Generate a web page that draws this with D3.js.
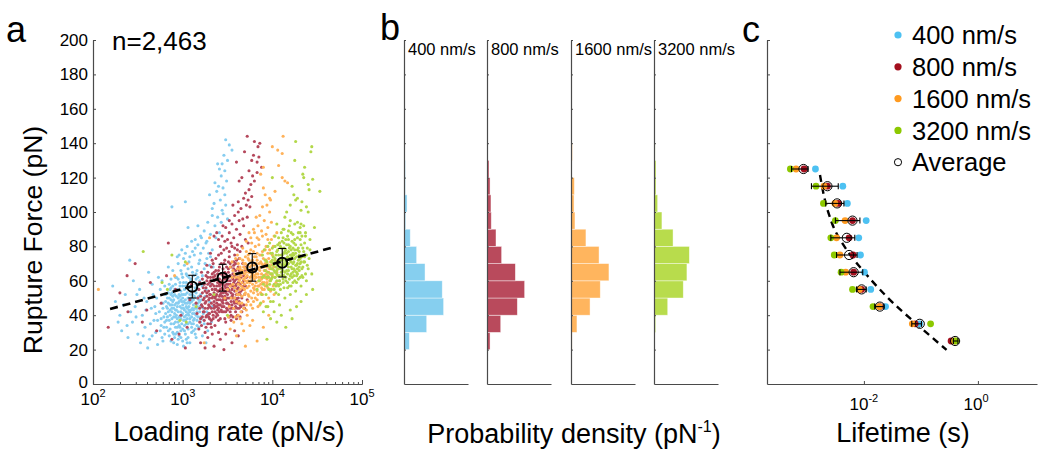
<!DOCTYPE html>
<html><head><meta charset="utf-8">
<script src="https://cdn.jsdelivr.net/npm/d3@7"></script>
<style>body{margin:0;background:#fff}svg{display:block}text{font-family:"Liberation Sans",Arial,sans-serif;fill:#000}</style>
</head><body><svg id="chart" width="1039" height="449"></svg>
<script>
// ---------- DATA ----------
const speeds = ["400 nm/s","800 nm/s","1600 nm/s","3200 nm/s"];
const sampleCountLabel = "n=2,463";
// panel a scatter: [log10 loading rate (pN/s), rupture force (pN)]
const scatter400 = [
[2.84,31],[2.91,27],[2.97,33],[3.03,29],[3.10,35],[2.88,38],[2.95,42],[3.01,37],[3.07,40],[3.14,44],
[2.82,45],[2.89,48],[2.93,51],[3.00,46],[3.05,53],[3.12,49],[3.18,55],[2.86,55],[2.92,58],[2.98,54],
[3.04,59],[3.09,57],[3.15,61],[2.81,41],[2.87,35],[2.94,30],[3.00,25],[3.06,32],[3.13,38],[3.19,42],
[2.83,50],[2.90,44],[2.96,39],[3.02,43],[3.08,47],[3.16,50],[3.21,46],[2.85,28],[2.92,36],[2.99,40],
[3.05,44],[3.11,52],[3.17,58],[2.80,36],[2.88,42],[2.95,47],[3.01,52],[3.07,56],[3.13,54],[3.20,52],
[2.84,47],[2.90,39],[2.97,45],[3.03,49],[3.09,43],[3.15,47],[3.22,57],[2.86,43],[2.93,40],[2.99,35],
[3.05,38],[3.11,41],[3.17,39],[2.82,33],[2.89,30],[2.96,28],[3.02,34],[3.08,36],[3.14,32],[3.20,36],
[2.87,52],[2.94,55],[3.00,57],[3.06,50],[3.12,46],[3.18,49],[2.83,39],[2.91,46],[2.98,49],[3.04,42],
[3.10,48],[3.16,44],[2.85,37],[2.92,33],[2.98,31],[3.04,26],[3.10,30],[3.16,34],[2.81,48],[2.88,53],
[2.95,50],[3.01,44],[3.07,45],[3.13,41],[3.19,45],[2.86,46],[2.93,43],[2.99,48],[3.06,41],[3.12,43],
[3.18,51],[2.84,42],[2.90,49],[2.96,52],[3.02,55],[3.08,52],[3.14,56],[2.89,57],[2.95,61],[3.01,59],
[3.07,62],[2.80,29],[2.87,25],[2.94,23],[3.01,22],[3.08,24],[3.15,27],[2.92,29],[2.98,38],[3.04,35],
[3.10,39],[3.16,37],[2.85,50],[2.91,52],[2.97,57],[3.03,47],[3.09,50],[3.15,53],[3.21,49],[3.00,41],
[2.83,44],[2.87,49],[2.91,41],[2.95,36],[2.99,44],[3.03,52],[3.07,48],[3.11,44],[3.15,40],[3.19,48],
[2.84,53],[2.88,46],[2.92,43],[2.96,48],[3.00,50],[3.04,45],[3.08,42],[3.12,37],[3.16,42],[3.20,45],
[2.86,40],[2.90,35],[2.94,38],[2.98,42],[3.02,39],[3.06,35],[3.10,33],[3.14,29],[3.18,33],[2.82,37],
[2.86,32],[2.90,29],[2.94,33],[2.98,27],[3.02,31],[3.06,27],[3.12,31],[2.89,51],[2.93,47],[2.97,51],
[3.01,48],[3.05,47],[3.09,54],[3.13,51],[3.17,47],[2.85,58],[2.91,55],[2.97,59],[3.03,57],[3.09,60],
[3.15,58],[2.81,52],[2.87,56],[2.93,62],[2.99,64],[3.05,63],[3.11,65],[3.17,62],[2.88,44],[2.92,39],
[2.96,34],[3.00,32],[3.04,40],[3.08,38],[3.12,35],[3.16,45],[3.20,39],[2.94,45],[2.99,52],[3.03,37],
[3.07,43],[3.11,49],[2.95,26],[3.05,24],[2.90,24],[2.78,44],[2.76,38],[2.80,57],[2.79,33],[3.23,41],
[2.22,57],[2.25,48],[2.32,31],[2.39,27],[2.41,72],[2.30,40],[2.36,52],[2.44,36],[2.47,45],[2.50,29],
[2.52,55],[2.55,40],[2.58,33],[2.61,21],[2.60,48],[2.63,26],[2.65,44],[2.66,58],[2.68,37],[2.70,30],
[2.71,50],[2.72,23],[2.74,42],[2.75,55],[2.76,34],[2.77,27],[2.78,47],[2.79,39],[2.73,62],[2.69,45],
[2.64,35],[2.57,50],[2.53,24],[2.48,39],[2.45,60],[2.42,42],[2.38,34],[2.34,46],[2.28,36],[2.62,65],
[2.67,52],[2.70,41],[2.75,31],[2.78,25],[2.56,28],[2.49,52],[2.59,43],[2.77,60],[2.72,37],[2.66,28],
[2.92,62],[2.98,66],[3.04,64],[3.10,68],[3.16,66],[3.22,63],[3.28,65],[2.95,70],[3.01,73],[3.07,71],
[3.13,75],[3.19,72],[3.25,70],[3.31,74],[2.99,78],[3.05,80],[3.11,77],[3.17,81],[3.23,79],[3.29,76],
[3.00,62],[3.06,67],[3.12,63],[3.18,70],[3.24,67],[3.30,69],[2.96,75],[3.02,69],[3.08,74],[3.14,79],
[3.20,76],[3.26,82],[3.33,78],[2.89,66],[2.94,74],[3.10,83],[3.21,85],[3.27,73],[3.15,64],[3.03,76],
[2.87,61],[3.34,68],[3.09,61],[3.19,60],[2.84,68],
[3.48,142],[3.52,139],[3.55,136],[3.46,133],[3.50,130],[3.44,128],[3.39,128],[3.41,125],[3.47,124],[3.43,121],
[3.49,118],[3.36,117],[3.40,115],[3.45,114],[3.38,112],[3.30,110],[3.47,110],[3.42,107],[3.35,105],[3.48,104],
[3.44,101],[3.45,99],[3.33,98],[3.39,97],[3.28,94],[3.43,94],[3.17,92],[3.06,91],[3.36,92],[3.24,89],
[3.31,87],[3.20,86],[3.37,85],[3.14,84],[3.27,83],[3.41,88],[2.88,103],[3.03,106],[3.50,96],[3.33,102],
[3.24,35],[3.27,42],[3.30,48],[3.26,55],[3.22,28],[3.29,39],[3.33,45],[3.25,51],[3.31,58],[3.23,44],
[3.28,31],[3.35,52],[3.21,38],[3.26,24],[3.32,36]
];
const scatter800 = [
[3.18,32],[3.24,37],[3.30,41],[3.36,45],[3.42,49],[3.48,53],[3.54,57],[3.60,61],[3.66,65],[3.21,46],
[3.27,51],[3.33,55],[3.39,59],[3.45,63],[3.51,67],[3.57,71],[3.63,48],[3.69,52],[3.16,41],[3.22,53],
[3.28,58],[3.34,62],[3.40,66],[3.46,70],[3.52,74],[3.58,44],[3.64,39],[3.70,57],[3.19,59],[3.25,44],
[3.31,35],[3.37,39],[3.43,43],[3.49,47],[3.55,51],[3.61,55],[3.67,59],[3.20,38],[3.26,63],[3.32,68],
[3.38,52],[3.44,56],[3.50,60],[3.56,64],[3.62,68],[3.68,46],[3.23,49],[3.29,54],[3.35,48],[3.41,42],
[3.47,38],[3.53,42],[3.59,50],[3.65,54],[3.71,62],[3.17,50],[3.23,56],[3.29,46],[3.35,57],[3.41,61],
[3.47,65],[3.53,63],[3.59,57],[3.65,45],[3.19,44],[3.25,30],[3.31,62],[3.37,66],[3.43,70],[3.49,58],
[3.55,46],[3.61,40],[3.67,70],[3.22,61],[3.28,35],[3.34,40],[3.40,37],[3.46,45],[3.52,50],[3.58,54],
[3.64,58],[3.70,66],[3.24,58],[3.30,52],[3.36,34],[3.42,55],[3.48,61],[3.54,68],[3.60,72],[3.66,50],
[3.18,55],[3.26,48],[3.32,44],[3.38,47],[3.44,51],[3.50,43],[3.56,39],[3.62,62],[3.68,63],[3.21,34],
[3.27,40],[3.33,50],[3.39,54],[3.45,58],[3.51,55],[3.57,59],[3.63,66],[3.69,44],[3.20,51],[3.28,65],
[3.34,70],[3.40,46],[3.46,50],[3.52,46],[3.58,63],[3.64,52],[3.15,47],[3.23,42],[3.29,39],[3.35,53],
[3.41,57],[3.47,54],[3.53,58],[3.59,66],[3.65,62],[3.25,54],[3.31,57],[3.37,61],[3.43,64],[3.49,68],
[3.55,62],[3.61,47],[3.67,55],[3.22,39],[3.30,45],[3.36,50],[3.42,52],[3.48,49],[3.54,53],[3.60,58],
[3.66,42],[3.27,60],[3.33,64],[3.39,43],[3.45,47],[3.51,62],[3.57,48],[3.63,44],[3.19,36],[3.26,33],
[3.32,37],[3.38,57],[3.44,60],[3.50,56],[3.56,52],[3.62,56],[3.68,60],[3.24,50],[3.36,55],[3.42,59],
[3.48,64],[3.54,48],[3.60,52],[3.29,49],[3.35,44],[3.41,51],[3.47,57],[3.53,44],[3.59,45],[3.39,64],
[3.45,67],[3.51,71],[3.57,67],[3.63,73],[3.33,72],[3.40,75],[3.46,78],[3.52,77],[3.58,75],[3.64,77],
[3.37,73],[3.43,76],[3.49,79],[3.55,80],[3.61,78],[3.31,76],[3.27,69],[3.21,65],[3.69,68],[3.72,49],
[3.35,60],[3.45,53],[3.55,55],[3.40,49],[3.50,52],[3.30,59],[3.44,45],[3.38,41],[3.48,42],[3.58,47],
[3.25,47],[3.30,50],[3.35,46],[3.40,54],[3.45,49],[3.50,47],[3.55,44],[3.60,49],[3.28,44],[3.33,42],
[3.38,49],[3.43,53],[3.48,56],[3.53,60],[3.58,56],[3.63,53],[3.26,56],[3.31,60],[3.36,63],[3.41,58],
[3.46,61],[3.51,58],[3.56,61],[3.61,64],[3.29,41],[3.34,38],[3.39,40],[3.44,42],[3.49,44],[3.54,40],
[3.59,42],[3.64,46],[3.27,53],[3.32,47],[3.37,51],[3.42,46],[3.47,51],[3.52,54],[3.57,50],[3.62,50],
[3.24,42],[3.30,38],[3.36,42],[3.42,38],[3.48,36],[3.54,37],[3.60,38],[3.33,58],[3.39,61],[3.45,55],
[3.51,65],[3.57,69],[3.63,61],[3.35,65],[3.41,68],[3.47,72],[3.53,70],[3.59,70],[3.28,62],[3.38,45],
[3.44,48],[3.50,50],[3.56,57],[3.62,59],[3.31,52],[3.37,55],[3.43,58],[3.49,54],[3.55,50],[3.61,44],
[3.34,51],[3.40,44],[3.46,42],[3.52,39],[3.58,60],[3.64,64],[3.68,57],[3.22,45],[3.26,39],[3.32,33],
[2.38,63],[2.30,53],[2.64,59],[2.39,42],[2.17,33],[2.60,43],[2.84,82],[2.71,31],[2.88,26],[3.03,21],
[2.55,36],[2.76,47],[2.92,55],[2.98,40],[3.05,33],[2.82,63],[2.47,70],[2.96,29],[3.08,49],[3.10,58],
[3.72,144],[3.80,141],[3.84,138],[3.86,140],[3.79,133],[3.77,130],[3.83,129],[3.85,132],[3.60,129],[3.74,124],
[3.83,123],[3.88,126],[3.66,120],[3.76,116],[3.74,113],[3.70,111],[3.63,118],[3.68,108],[3.73,107],[3.77,109],
[3.71,104],[3.65,102],[3.62,100],[3.75,103],[3.58,98],[3.67,96],[3.63,95],[3.72,97],[3.55,93],[3.48,91],
[3.60,90],[3.68,92],[3.52,88],[3.44,86],[3.57,85],[3.64,87],[3.70,84],[3.47,83],[3.54,82],[3.61,81],
[3.42,80],[3.50,84],[3.66,80],[3.58,79],[3.73,82],[3.45,92],[3.38,88],[3.56,104],[3.80,118],[3.69,135],
[3.52,95],[3.40,84],[3.62,106],[3.78,121],[3.35,86],
[3.20,24],[3.28,27],[3.35,22],[3.42,26],[3.48,29],[3.55,24],[3.33,29],[3.25,21],[3.40,30],[3.58,31],[3.46,20],[3.62,28]
];
const scatter1600 = [
[3.52,45],[3.58,50],[3.64,55],[3.70,60],[3.76,65],[3.82,70],[3.88,75],[3.94,58],[4.00,63],[3.55,62],
[3.61,67],[3.67,72],[3.73,48],[3.79,53],[3.85,57],[3.91,62],[3.97,67],[4.03,72],[3.50,55],[3.56,58],
[3.62,40],[3.68,44],[3.74,57],[3.80,61],[3.86,66],[3.92,70],[3.98,54],[4.04,59],[3.53,68],[3.59,73],
[3.65,63],[3.71,67],[3.77,71],[3.83,49],[3.89,52],[3.95,76],[4.01,80],[3.57,36],[3.63,47],[3.69,52],
[3.75,76],[3.81,80],[3.87,62],[3.93,64],[3.99,69],[4.05,65],[3.54,50],[3.60,54],[3.66,59],[3.72,63],
[3.78,58],[3.84,64],[3.90,68],[3.96,73],[4.02,52],[3.58,64],[3.64,68],[3.70,70],[3.76,54],[3.82,59],
[3.88,56],[3.94,61],[4.00,75],[3.51,39],[3.57,44],[3.63,60],[3.69,64],[3.75,68],[3.81,66],[3.87,71],
[3.93,80],[3.99,84],[4.06,70],[3.55,71],[3.61,75],[3.67,79],[3.73,73],[3.79,77],[3.85,81],[3.91,55],
[3.97,60],[3.60,48],[3.66,51],[3.72,56],[3.78,62],[3.84,67],[3.90,73],[3.96,65],[4.02,68],[3.62,58],
[3.68,61],[3.74,65],[3.80,69],[3.86,75],[3.92,78],[3.98,71],[3.65,42],[3.71,46],[3.77,50],[3.83,54],
[3.89,59],[3.95,63],[4.01,57],[3.59,62],[3.65,66],[3.71,77],[3.77,82],[3.83,85],[3.89,86],[3.95,84],
[3.64,73],[3.70,53],[3.76,60],[3.82,74],[3.88,64],[3.94,68],[3.47,50],[3.53,57],[3.59,39],[3.66,35],
[3.72,40],[3.78,44],[3.84,45],[3.90,48],[3.96,50],[3.61,52],[3.67,56],[3.73,60],[3.79,66],[3.85,70],
[3.91,66],[3.97,78],[4.03,62],[3.56,66],[3.62,70],[3.68,68],[3.74,72],[3.80,74],[3.86,60],[3.92,57],
[3.98,61],[4.08,60],[3.69,58],[3.75,62],[3.81,57],[3.87,53],[3.93,72],[3.99,64],[3.63,64],[3.70,74],
[3.76,78],[3.82,64],[3.88,68],[3.94,70],[4.00,67],[3.58,56],[3.64,61],[3.71,65],[3.77,69],[3.83,72],
[3.89,77],[3.95,56],[3.73,52],[3.79,56],[3.85,62],[3.91,59],[3.97,55],[3.67,65],[3.80,63],[3.86,68],
[3.62,62],[3.67,66],[3.72,69],[3.77,63],[3.82,67],[3.87,58],[3.92,62],[3.65,57],[3.70,62],[3.75,59],
[3.80,55],[3.85,60],[3.90,63],[3.68,70],[3.73,75],[3.78,72],[3.83,76],[3.88,70],[3.93,66],[3.63,52],
[3.69,55],[3.74,51],[3.79,48],[3.84,52],[3.89,55],[3.66,47],[3.71,43],[3.76,46],[3.81,50],[3.86,46],
[3.64,67],[3.70,67],[3.76,66],[3.82,62],[3.88,61],[3.94,59],[3.72,59],[3.78,64],[3.84,57],[3.90,69],
[4.12,144],[4.00,138],[4.06,136],[4.11,134],[3.90,126],[4.07,127],[4.11,120],[4.14,118],[4.17,117],[3.90,114],
[3.92,110],[3.97,108],[3.98,107],[3.89,103],[3.97,100],[3.86,98],[3.91,95],[3.84,92],[3.95,91],[3.80,88],
[3.88,89],[3.93,87],[3.76,85],[3.85,84],[4.02,86],[3.71,83],[3.79,90],[3.99,94],[4.05,88],[3.82,97],
[4.08,82],[3.74,88],[3.94,104],[4.03,112],[3.87,122],
[3.53,32],[3.60,28],[3.68,31],[3.75,34],[3.78,37],[3.83,25],[3.70,22],[3.90,33],[3.64,38],[3.96,40],
[2.06,55],[2.91,63],[3.24,24],[3.05,70],[3.30,85]
];
const scatter3200 = [
[3.88,52],[3.94,57],[4.00,62],[4.06,67],[4.12,72],[4.18,77],[4.24,82],[4.30,66],[4.36,71],[3.91,63],
[3.97,68],[4.03,73],[4.09,55],[4.15,60],[4.21,64],[4.27,69],[4.33,74],[4.39,79],[3.85,60],[3.92,66],
[3.98,48],[4.04,53],[4.10,65],[4.16,69],[4.22,74],[4.28,78],[4.34,62],[4.40,67],[3.89,75],[3.95,80],
[4.01,70],[4.07,75],[4.13,79],[4.19,57],[4.25,60],[4.31,84],[4.37,88],[3.93,45],[3.99,55],[4.05,60],
[4.11,83],[4.17,86],[4.23,70],[4.29,72],[4.35,77],[4.41,73],[3.90,58],[3.96,62],[4.02,66],[4.08,70],
[4.14,65],[4.20,72],[4.26,76],[4.32,81],[4.38,60],[3.94,71],[4.00,76],[4.06,78],[4.12,61],[4.18,66],
[4.24,63],[4.30,68],[4.36,82],[3.87,47],[3.93,52],[3.99,67],[4.05,71],[4.11,75],[4.17,74],[4.23,79],
[4.29,88],[4.35,92],[4.42,78],[3.91,78],[3.97,82],[4.03,86],[4.09,80],[4.15,84],[4.21,88],[4.27,63],
[4.33,67],[3.96,55],[4.02,58],[4.08,63],[4.14,69],[4.20,75],[4.26,81],[4.32,71],[4.38,75],[3.98,64],
[4.04,68],[4.10,72],[4.16,76],[4.22,83],[4.28,85],[4.34,79],[4.01,48],[4.07,52],[4.13,56],[4.19,61],
[4.25,66],[4.31,70],[4.37,64],[3.95,65],[4.01,69],[4.07,85],[4.13,90],[4.19,92],[4.25,93],[4.31,91],
[4.00,79],[4.06,58],[4.12,66],[4.18,81],[4.24,71],[4.30,75],[3.83,55],[3.89,62],[3.95,45],[4.02,42],
[4.08,46],[4.14,50],[4.20,52],[4.26,54],[4.32,57],[3.97,58],[4.03,62],[4.09,67],[4.15,73],[4.21,78],
[4.27,74],[4.33,86],[4.39,69],[3.92,72],[3.98,76],[4.04,75],[4.10,79],[4.16,81],[4.22,67],[4.28,64],
[4.34,68],[4.44,64],[4.05,64],[4.11,69],[4.17,64],[4.23,59],[4.29,79],[4.35,71],[3.99,71],[4.06,81],
[4.12,85],[4.18,70],[4.24,75],[4.30,77],[4.36,74],[3.94,62],[4.00,67],[4.07,72],[4.13,76],[4.19,79],
[4.25,84],[4.31,62],[4.09,58],[4.15,62],[4.21,68],[4.27,65],[4.33,63],[4.03,71],[4.16,70],[4.22,75],
[3.98,60],[4.03,65],[4.08,60],[4.13,63],[4.18,68],[4.23,65],[4.28,70],[4.00,72],[4.05,77],[4.10,75],
[4.15,78],[4.20,80],[4.25,78],[4.02,55],[4.07,57],[4.12,59],[4.17,56],[4.22,62],[4.27,59],[3.96,69],
[4.01,74],[4.06,69],[4.11,63],[4.16,66],[4.21,71],[4.26,69],[4.31,73],[3.99,61],[4.04,57],[4.09,73],
[4.14,77],[4.19,73],[4.24,67],[4.29,61],[4.03,80],[4.08,82],[4.13,82],[4.18,84],[4.23,76],[4.12,70],
[4.06,63],[4.15,71],[4.20,63],[4.10,68],[4.00,64],[4.25,73],[4.17,59],[4.05,66],[4.28,67],[4.21,57],
[4.26,141],[4.44,138],[4.43,135],[4.25,130],[4.36,126],[4.34,122],[4.35,120],[4.00,120],[4.45,119],[4.53,112],
[4.40,116],[4.41,113],[4.24,110],[4.28,108],[4.26,107],[4.20,104],[4.38,103],[4.40,100],[4.32,101],[4.14,97],
[4.20,95],[4.28,94],[4.32,93],[4.12,90],[4.18,89],[4.23,87],[4.31,88],[4.37,86],[4.42,84],[4.10,88],
[4.47,91],[4.05,93],[4.16,100],[4.33,106],[4.22,115],
[3.94,26],[4.20,43],[4.27,45],[4.10,40],[4.05,36],[3.98,38],[4.15,33],[4.22,38],[3.90,42],[4.32,48],[4.38,52],[4.45,55],
[2.56,77],[2.88,75],[3.03,71],[2.77,59],[2.83,55],[2.97,37],[3.04,36],[3.15,45],[3.35,52],[3.50,40]
];
// panel a averages
const avgRate = [1280, 2790, 5970, 12900];
const avgForce = [56.6, 61.8, 67.8, 70.5];
const avgForceSD = [6.6, 7.8, 8.0, 8.3];
const fitARate = [155, 50000];
const fitAForce = [43.6, 79.8];
const rateTicks = [1e2, 1e3, 1e4, 1e5];

// panel b histograms: bin lower edges (pN, width 10) and densities (pN^-1)
const binStart400 = [20,30,40,50,60,70,80,90,100,110,120];
const dens400 = [0.0035,0.0149,0.0260,0.0251,0.0138,0.0083,0.0041,0.0011,0.0020,0.0009,0.0009];
const binStart800 = [20,30,40,50,60,70,80,90,100,110,120];
const dens800 = [0.0020,0.0090,0.0199,0.0247,0.0186,0.0096,0.0059,0.0028,0.0026,0.0020,0.0013];
const binStart1600 = [20,30,40,50,60,70,80,90,100,110,120,130];
const dens1600 = [0.0007,0.0039,0.0125,0.0192,0.0249,0.0184,0.0098,0.0026,0.0020,0.0022,0.0003,0.0009];
const binStart3200 = [20,30,40,50,60,70,80,90,100,110,120,130];
const dens3200 = [0.0003,0.0011,0.0090,0.0192,0.0216,0.0232,0.0125,0.0052,0.0024,0.0013,0.0013,0.0007];

// panel c: force levels (pN) and log10 lifetime (s)
const cForce = [125,115,105,95,85,75,65,55,45,35,25];
const life400 = [-2.85,-2.37,-2.29,-1.96,-2.09,-2.06,-1.99,-1.88,-1.62,-1.02,-0.44];
const life800 = [-3.05,-2.64,-2.45,-2.20,-2.26,-2.19,-2.18,-2.04,-1.72,-1.10,-0.47];
const life1600 = [-3.19,-2.70,-2.51,-2.33,-2.48,-2.42,-2.32,-2.08,-1.73,-1.15,-0.41];
const life3200 = [-3.29,-2.84,-2.71,-2.50,-2.58,-2.52,-2.40,-2.20,-1.84,-0.83,-0.39];
const lifeAvg = [-3.06,-2.64,-2.47,-2.20,-2.30,-2.26,-2.18,-2.04,-1.72,-1.02,-0.40];
const lifeErrLo = [-3.27,-2.92,-2.67,-2.50,-2.58,-2.48,-2.42,-2.13,-1.81,-1.16,-0.43];
const lifeErrHi = [-2.98,-2.45,-2.35,-2.07,-2.16,-2.12,-2.02,-1.96,-1.65,-0.99,-0.35];
const fitCForce = [121.5, 98.3, 89.5, 77.9, 63.4, 46.9, 33.3, 19.8];
const fitCLife = [-2.77, -2.61, -2.51, -2.30, -1.95, -1.48, -1.02, -0.55];
const lifeTicks = [1e-2, 1e0];
const legendLabels = ["400 nm/s","800 nm/s","1600 nm/s","3200 nm/s","Average"];

// ---------- STYLE ----------
const scatterColors = ["#86cdf0","#b5485c","#ffb25a","#b3d84a"];
const histColors = ["#86cfef","#b94a5c","#ffb55e","#b8dc4c"];
const dotColors = ["#4dc1f2","#a30f1d","#ff9a1f","#8cc800"];
const axisColor = "#4a4a4a";
const FONT = '"Liberation Sans",Arial,sans-serif';

const svg = d3.select("#chart");
const yF = d3.scaleLinear().domain([0,200]).range([384,40]);

function styleAxis(g){
  g.select(".domain").attr("stroke", axisColor).attr("stroke-width",1.2);
  g.selectAll(".tick line").attr("stroke", axisColor);
  g.selectAll("text").attr("fill","#000");
}
// "10" as tick text, exponent as a separate small text in the tick group
function powLabel(sel, expFn, y, baseW){
  sel.selectAll(".tick").each(function(d){
    const tick = d3.select(this);
    tick.select("text").text("10").attr("y", y).attr("dy", 0)
      .attr("font-size", 17).attr("font-family", FONT).attr("text-anchor","end").attr("x", baseW);
    tick.append("text").text(expFn(d)).attr("x", baseW).attr("y", y-8)
      .attr("font-size", 11).attr("font-family", FONT).attr("fill","#000").attr("text-anchor","start");
  });
}

// ---------- PANEL A ----------
const xA = d3.scaleLog().domain([1e2,1e5]).range([93,362]);
const gA = svg.append("g");
const scatterSets = [scatter400, scatter800, scatter1600, scatter3200];
scatterSets.forEach((set,i)=>{
  gA.append("g").selectAll("circle").data(set).join("circle")
    .attr("cx", d=>xA(Math.pow(10,d[0]))).attr("cy", d=>yF(d[1]))
    .attr("r", 1.55).attr("fill", scatterColors[i]);
});
const yAxA = gA.append("g").attr("transform","translate(93,0)")
  .call(d3.axisLeft(yF).tickValues(d3.range(0,201,20)).tickSize(-3).tickPadding(5).tickSizeOuter(0));
styleAxis(yAxA);
yAxA.selectAll("text").attr("font-size",17).attr("font-family",FONT);
yAxA.selectAll(".tick").filter(d=>d===0).select("text").attr("dy","0.2em");
const minorA = [];
for (let e=2;e<5;e++) for (let m=2;m<10;m++) minorA.push(m*Math.pow(10,e));
const xMinA = gA.append("g").attr("transform","translate(0,384)")
  .call(d3.axisBottom(xA).tickValues(minorA).tickSize(-2).tickFormat("").tickSizeOuter(0));
styleAxis(xMinA);
const xAxA = gA.append("g").attr("transform","translate(0,384)")
  .call(d3.axisBottom(xA).tickValues(rateTicks).tickSize(-4).tickSizeOuter(0));
styleAxis(xAxA);
powLabel(xAxA, d=>String(Math.round(Math.log10(d))), 21, 6);

// fit line
const lineA = d3.line().x(d=>xA(d[0])).y(d=>yF(d[1]));
gA.append("path").datum(fitARate.map((r,i)=>[r,fitAForce[i]])).attr("d",lineA)
  .attr("fill","none").attr("stroke","#000").attr("stroke-width",2.6).attr("stroke-dasharray","8,5");
// averages
avgRate.forEach((r,i)=>{
  const x = xA(r);
  gA.append("line").attr("x1",x).attr("x2",x).attr("y1",yF(avgForce[i]-avgForceSD[i])).attr("y2",yF(avgForce[i]+avgForceSD[i])).attr("stroke","#000").attr("stroke-width",1.1);
  [avgForce[i]-avgForceSD[i], avgForce[i]+avgForceSD[i]].forEach(v=>{
    gA.append("line").attr("x1",x-4).attr("x2",x+4).attr("y1",yF(v)).attr("y2",yF(v)).attr("stroke","#000").attr("stroke-width",1.1);
  });
});
gA.selectAll("circle.avg").data(avgRate).join("circle").attr("class","avg")
  .attr("cx",d=>xA(d)).attr("cy",(d,i)=>yF(avgForce[i])).attr("r",5)
  .attr("fill","none").attr("stroke","#000").attr("stroke-width",2);

gA.append("text").attr("x",112).attr("y",50).attr("font-size",26).text(sampleCountLabel);
gA.append("text").attr("transform","translate(42,240) rotate(-90)").attr("text-anchor","middle")
  .attr("font-size",26.5).text("Rupture Force (pN)");
gA.append("text").attr("x",229).attr("y",441).attr("text-anchor","middle").attr("font-size",27).text("Loading rate (pN/s)");
svg.append("text").attr("x",6).attr("y",42).attr("font-size",36).text("a");

// ---------- PANEL B ----------
const histX0 = [404, 487, 571, 654];
const histW = 64;
const histBins = [binStart400, binStart800, binStart1600, binStart3200];
const histDens = [dens400, dens800, dens1600, dens3200];
histX0.forEach((x0,i)=>{
  const xs = d3.scaleLinear().domain([0,0.042]).range([x0, x0+histW]);
  const g = svg.append("g");
  g.selectAll("rect").data(histBins[i].map((b,j)=>[b,histDens[i][j]])).join("rect")
    .attr("x", xs(0)).attr("y", d=>yF(d[0]+10)).attr("width", d=>xs(d[1])-xs(0))
    .attr("height", d=>yF(d[0])-yF(d[0]+10))
    .attr("fill", histColors[i]).attr("stroke","#ffffff").attr("stroke-opacity",0.6).attr("stroke-width",0.7);
  const ya = g.append("g").attr("transform",`translate(${x0},0)`)
    .call(d3.axisLeft(yF).tickValues(d3.range(20,201,20)).tickSize(-2).tickFormat("").tickSizeOuter(0));
  styleAxis(ya);
  const xa = g.append("g").attr("transform","translate(0,384)")
    .call(d3.axisBottom(xs).tickValues([]).tickSizeOuter(0));
  styleAxis(xa);
  g.append("text").attr("x", x0+4).attr("y", 55).attr("font-size",16.5).text(speeds[i]);
});
const pd = svg.append("text").attr("x",574).attr("y",443).attr("text-anchor","middle").attr("font-size",27);
pd.append("tspan").text("Probability density (pN");
pd.append("tspan").text("-1").attr("font-size",16).attr("dy",-11);
pd.append("tspan").text(")").attr("dy",11);
svg.append("text").attr("x",380).attr("y",40).attr("font-size",36).text("b");

// ---------- PANEL C ----------
const xC = d3.scaleLog().domain([Math.pow(10,-3.70), Math.pow(10,1.037)]).range([767,1037]);
const gC = svg.append("g");
const yAxC = gC.append("g").attr("transform","translate(767,0)")
  .call(d3.axisLeft(yF).tickValues(d3.range(20,201,20)).tickSize(-3).tickFormat("").tickSizeOuter(0));
styleAxis(yAxC);
const xAxC = gC.append("g").attr("transform","translate(0,384)")
  .call(d3.axisBottom(xC).tickValues(lifeTicks).tickSize(-3).tickSizeOuter(0));
styleAxis(xAxC);
powLabel(xAxC, d=>String(Math.round(Math.log10(d))), 26, 4);

const lineC = d3.line().x(d=>xC(Math.pow(10,d[1]))).y(d=>yF(d[0])).curve(d3.curveMonotoneY);
gC.append("path").datum(fitCForce.map((f,i)=>[f,fitCLife[i]])).attr("d",lineC)
  .attr("fill","none").attr("stroke","#000").attr("stroke-width",2.4).attr("stroke-dasharray","7,5");

const lifeSets = [life400, life800, life1600, life3200];
[0,1,2,3].forEach(i=>{
  gC.append("g").selectAll("circle").data(lifeSets[i]).join("circle")
    .attr("cx", d=>xC(Math.pow(10,d))).attr("cy",(d,j)=>yF(cForce[j])).attr("r",3.4)
    .attr("fill", dotColors[i]);
});
cForce.forEach((f,j)=>{
  const y = yF(f), x1 = xC(Math.pow(10,lifeErrLo[j])), x2 = xC(Math.pow(10,lifeErrHi[j]));
  gC.append("line").attr("x1",x1).attr("x2",x2).attr("y1",y).attr("y2",y).attr("stroke","#000").attr("stroke-width",1.1);
  [x1,x2].forEach(x=>gC.append("line").attr("x1",x).attr("x2",x).attr("y1",y-3).attr("y2",y+3).attr("stroke","#000").attr("stroke-width",1.1));
});
gC.selectAll("circle.avg").data(lifeAvg).join("circle").attr("class","avg")
  .attr("cx",d=>xC(Math.pow(10,d))).attr("cy",(d,j)=>yF(cForce[j])).attr("r",4.6)
  .attr("fill","none").attr("stroke","#000").attr("stroke-width",1);

gC.append("text").attr("x",903).attr("y",442).attr("text-anchor","middle").attr("font-size",27).text("Lifetime (s)");
svg.append("text").attr("x",742).attr("y",42).attr("font-size",36).text("c");

// legend
const leg = svg.append("g");
legendLabels.forEach((lab,i)=>{
  const y = 35 + i*31.8;
  if (i<4) leg.append("circle").attr("cx",898).attr("cy",y).attr("r",3.6).attr("fill",dotColors[i]);
  else leg.append("circle").attr("cx",898).attr("cy",y).attr("r",3.6).attr("fill","none").attr("stroke","#000").attr("stroke-width",1);
  leg.append("text").attr("x",912).attr("y",y).attr("dy","0.36em").attr("font-size",25.5).text(lab);
});
</script></body></html>
